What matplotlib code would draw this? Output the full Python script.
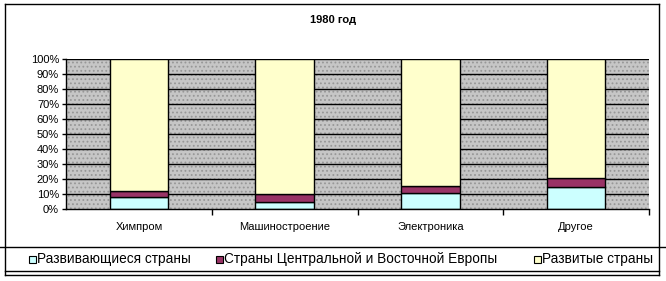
import matplotlib
matplotlib.use("Agg")
import matplotlib.pyplot as plt
from matplotlib.patches import Rectangle
from matplotlib.lines import Line2D

categories = ["Химпром", "Машиностроение", "Электроника", "Другое"]
developing = [8, 5, 11, 15]
cee = [4, 5, 4.5, 6]
developed = [88, 90, 84.5, 79]
series_names = ["Развивающиеся страны", "Страны Центральной и Восточной Европы", "Развитые страны"]
y_ticks = [0, 10, 20, 30, 40, 50, 60, 70, 80, 90, 100]
y_labels = [f"{v}%" for v in y_ticks]
title = "1980 год"

colors = ["#ccffff", "#993366", "#ffffcc"]

plt.rcParams['font.family'] = ['Liberation Sans', 'DejaVu Sans']
plt.rcParams['hatch.linewidth'] = 0.8

W, H = 666, 281
fig = plt.figure(figsize=(W / 100, H / 100), dpi=100)

def fx(px):
    return px / W

def fy(py):
    return 1 - py / H

ax = fig.add_axes([fx(66), fy(209.4), fx(649) - fx(66), fy(58.5) - fy(209.4)])
ax.set_xlim(-0.5, 3.5)
ax.set_ylim(0, 100)

# background
ax.set_facecolor("#c6c6c6")
bg = Rectangle((0, 0), 1, 1, transform=ax.transAxes, facecolor="#c6c6c6",
               edgecolor="#979797", hatch="....", linewidth=0, zorder=0)
ax.add_patch(bg)

for y in y_ticks[1:]:
    ax.axhline(y, color="black", linewidth=1.0, zorder=1)

x = list(range(len(categories)))
bottoms = [0] * len(categories)
for vals, c in zip([developing, cee, developed], colors):
    ax.bar(x, vals, bottom=bottoms, width=0.4, color=c, edgecolor="black",
           linewidth=1.0, zorder=2)
    bottoms = [b + v for b, v in zip(bottoms, vals)]

for s in ["top", "right"]:
    ax.spines[s].set_visible(False)
ax.spines["left"].set_linewidth(1.0)
ax.spines["bottom"].set_linewidth(1.0)

ax.set_yticks(y_ticks)
ax.set_yticklabels(y_labels, fontsize=8)
ax.tick_params(axis="y", length=3, width=1, pad=2, direction="out")

ax.set_xticks([0.5, 1.5, 2.5, 3.5])
ax.set_xticklabels([])
ax.tick_params(axis="x", which="major", length=4, width=1, direction="out")
ax.set_xticks(x, minor=True)
ax.set_xticklabels(categories, minor=True, fontsize=8)
ax.tick_params(axis="x", which="minor", length=0, pad=9)

fig.text(0.5, fy(20), title, ha="center", va="center", fontsize=8, fontweight="bold")

# borders
def hline(y, x0, x1):
    fig.add_artist(Line2D([fx(x0), fx(x1)], [fy(y), fy(y)], color="black", linewidth=1.0))

def vline(x_, y0, y1):
    fig.add_artist(Line2D([fx(x_), fx(x_)], [fy(y0), fy(y1)], color="black", linewidth=1.0))

hline(4, 5, 659)
vline(5, 4, 275)
vline(659, 4, 275)
hline(247, 0, 666)
hline(271, 5, 659)
hline(275, 5, 659)

# legend
leg_items = [(32, series_names[0]), (219, series_names[1]), (537, series_names[2])]
for (px, name), c in zip(leg_items, colors):
    fig.add_artist(Rectangle((fx(px - 3.5), fy(262.5)), fx(7), fy(255.5) - fy(262.5),
                             transform=fig.transFigure, facecolor=c, edgecolor="black", linewidth=0.8))
    fig.text(fx(px + 5), fy(259), name, ha="left", va="center", fontsize=9.8)

fig.savefig("out.png", dpi=100)
